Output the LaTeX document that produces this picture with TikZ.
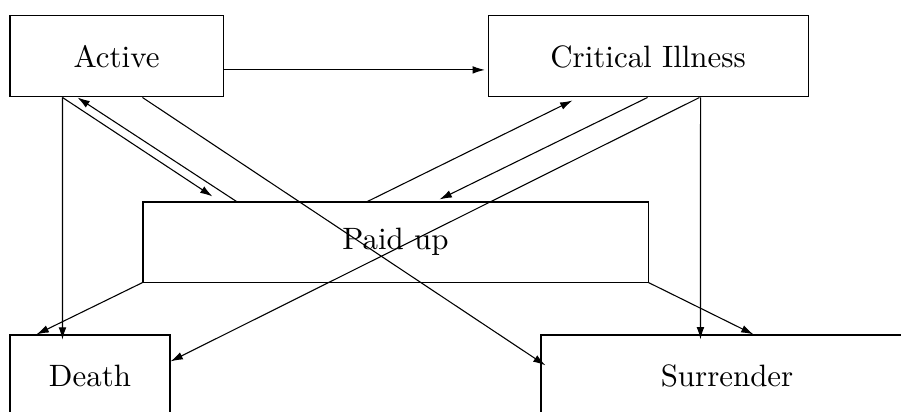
\documentclass[tikz,border=0pt]{standalone}
\usepackage{amsmath}
\usetikzlibrary{positioning,arrows.meta}

\begin{document}
\begin{tikzpicture}[
    state/.style={rectangle, draw, line width=0.35pt, inner sep=0pt, align=center, font=\normalsize},
    arrow/.style={-{Latex[length=4pt,width=2.5pt]}, line width=0.35pt}
]
\useasboundingbox (0,0) rectangle (10.244,-4.684);

% States of the multiple state model
\node[state, minimum width=2.422cm, minimum height=0.921cm] (active) at (1.325,-0.642) {Active};
\node[state, minimum width=3.638cm, minimum height=0.921cm] (ci) at (7.368,-0.642) {Critical Illness};
\node[state, minimum width=5.742cm, minimum height=0.910cm] (paid) at (4.497,-2.752) {Paid up};
\node[state, minimum width=1.819cm, minimum height=0.921cm] (death) at (1.023,-4.269) {Death};
\node[state, minimum width=4.230cm, minimum height=0.921cm] (surr) at (8.266,-4.269) {Surrender};

% Transitions out of Active
\draw[arrow] ([yshift=-0.153cm]active.east) -- ([xshift=-0.03cm,yshift=-0.153cm]ci.west);
\draw[arrow] ([xshift=0.603cm]active.south west) -- ([xshift=0.603cm,yshift=-0.06cm]death.north west);
\draw[arrow] ([xshift=0.603cm]active.south west) -- ([xshift=0.796cm,yshift=0.057cm]paid.north west);
\draw[arrow] ([xshift=1.512cm]active.south west) -- ([xshift=0.057cm,yshift=-0.352cm]surr.north west);

% Paid up back to Active and to Critical Illness
\draw[arrow] ([xshift=1.069cm]paid.north west) -- ([xshift=0.773cm]active.south west);
\draw[arrow] ([xshift=2.558cm]paid.north west) -- ([xshift=0.966cm,yshift=-0.034cm]ci.south west);

% Transitions out of Critical Illness
\draw[arrow] ([xshift=1.819cm]ci.south west) -- ([xshift=3.377cm,yshift=0.023cm]paid.north west);
\draw[arrow] ([xshift=2.410cm]ci.south west) -- ([yshift=-0.307cm]death.north east);
\draw[arrow] ([xshift=2.422cm]ci.south west) -- ([xshift=1.819cm,yshift=-0.057cm]surr.north west);

% Paid up to the exits
\draw[arrow] (paid.south west) -- ([xshift=0.307cm]death.north west);
\draw[arrow] (paid.south east) -- ([xshift=2.422cm]surr.north west);

\end{tikzpicture}
\end{document}
